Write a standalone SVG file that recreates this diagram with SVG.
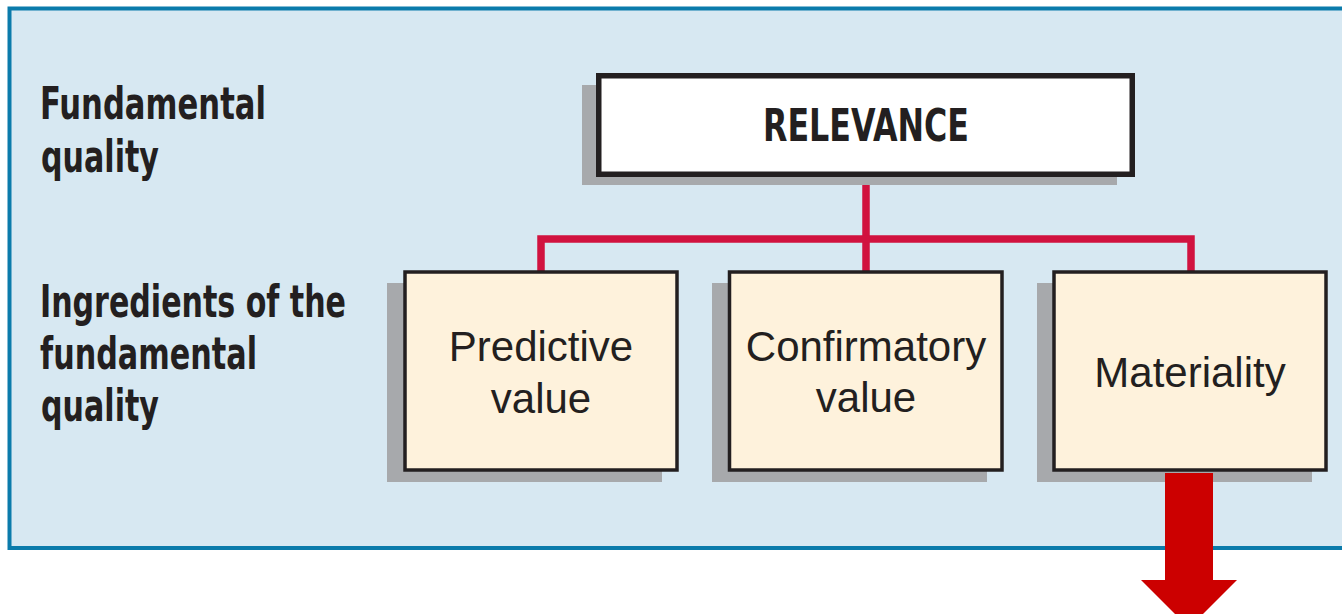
<svg xmlns="http://www.w3.org/2000/svg" width="1342" height="614" viewBox="0 0 1342 614">
  <style>
    .panel { fill: #d7e8f2; stroke: #0b7bab; stroke-width: 4; }
    .shadow { fill: #a7a9ac; }
    .box { fill: #fef2dc; stroke: #231f20; stroke-width: 3.5; }
    .topbox { fill: #ffffff; stroke: #231f20; stroke-width: 5.5; }
    .label { font-family: "DejaVu Sans Condensed", "DejaVu Sans", sans-serif; font-stretch: condensed; font-weight: bold; font-size: 44px; fill: #231f20; }
    .head { font-family: "DejaVu Sans Condensed", "DejaVu Sans", sans-serif; font-stretch: condensed; font-weight: bold; font-size: 44px; fill: #231f20; text-anchor: middle; }
    .btext { font-family: "Liberation Sans", Arial, sans-serif; font-size: 42px; fill: #231f20; text-anchor: middle; }
    .conn { fill: none; stroke: #d1123f; stroke-width: 7.5; stroke-linejoin: miter; }
  </style>

  <rect class="panel" x="9.5" y="8.5" width="1400" height="539.5"/>

  <g id="labels">
    <text class="label" x="40" y="119" textLength="226" lengthAdjust="spacingAndGlyphs">Fundamental</text>
    <text class="label" x="41" y="172" textLength="118" lengthAdjust="spacingAndGlyphs">quality</text>
    <text class="label" x="40" y="317" textLength="306" lengthAdjust="spacingAndGlyphs">Ingredients of the</text>
    <text class="label" x="40" y="369" textLength="217" lengthAdjust="spacingAndGlyphs">fundamental</text>
    <text class="label" x="41" y="421" textLength="118" lengthAdjust="spacingAndGlyphs">quality</text>
  </g>

  <g id="connectors">
    <path class="conn" d="M866,177 V271"/>
    <path class="conn" d="M541,271 V239 H1191 V271"/>
  </g>

  <g id="relevance">
    <rect class="shadow" x="582" y="85" width="535" height="100"/>
    <rect class="topbox" x="598.75" y="75.75" width="533.5" height="98.5"/>
    <text class="head" x="866" y="141" textLength="206" lengthAdjust="spacingAndGlyphs">RELEVANCE</text>
  </g>

  <g id="predictive">
    <rect class="shadow" x="387" y="283" width="275" height="199"/>
    <rect class="box" x="405" y="272" width="272" height="198"/>
    <text class="btext" x="541" y="361">Predictive</text>
    <text class="btext" x="541" y="413">value</text>
  </g>

  <g id="confirmatory">
    <rect class="shadow" x="712" y="283" width="275" height="199"/>
    <rect class="box" x="729.5" y="272" width="272.5" height="198"/>
    <text class="btext" x="866" y="361">Confirmatory</text>
    <text class="btext" x="866" y="412">value</text>
  </g>

  <g id="materiality">
    <rect class="shadow" x="1037" y="283" width="275" height="199"/>
    <rect class="box" x="1054" y="272" width="272" height="198"/>
    <text class="btext" x="1190" y="387">Materiality</text>
  </g>

  <g id="arrow">
    <polygon fill="#cc0000" points="1165,473 1213,473 1213,580 1237,580 1189,628 1141,580 1165,580"/>
  </g>
</svg>
